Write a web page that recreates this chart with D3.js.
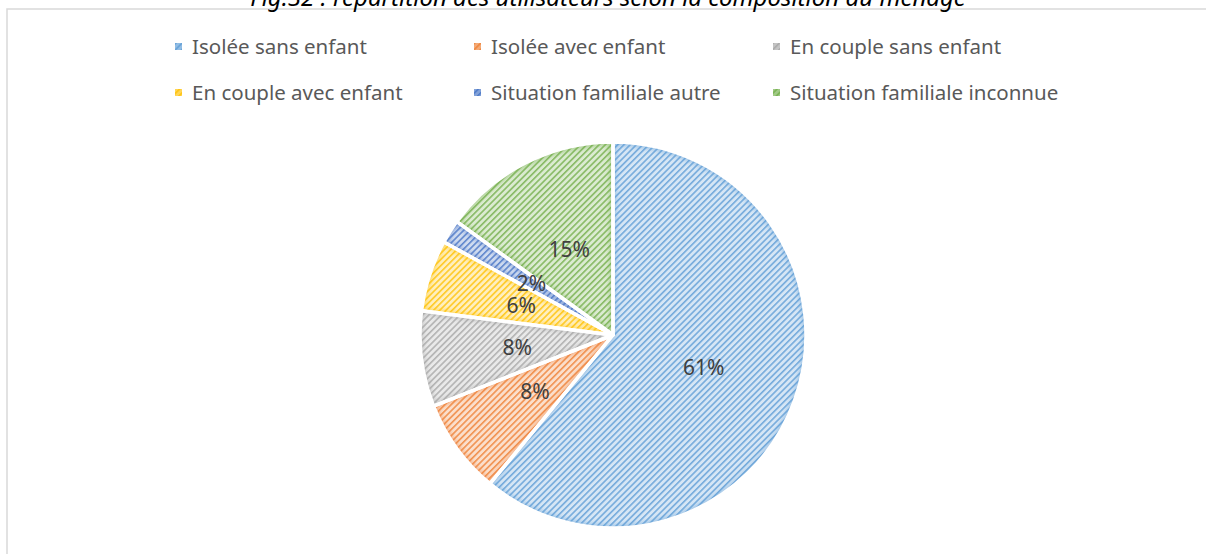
<!DOCTYPE html>
<html>
<head>
<meta charset="utf-8">
<script src="https://cdn.jsdelivr.net/npm/d3@7"></script>
<style>
  html, body { margin: 0; padding: 0; background: #fff; }
  svg { display: block; }
</style>
</head>
<body>
<svg id="chart" width="1206" height="554"></svg>
<script>
// Household composition of users (share, %)
const categories = [
  "Isolée sans enfant",
  "Isolée avec enfant",
  "En couple sans enfant",
  "En couple avec enfant",
  "Situation familiale autre",
  "Situation familiale inconnue"
];
const shares = [61, 8, 8, 6, 2, 15];
const colors = ["#5B9BD5", "#ED7D31", "#A5A5A5", "#FFC000", "#4472C4", "#70AD47"];
const titleText = "Fig.32 : répartition des utilisateurs selon la composition du ménage";

const W = 1206, H = 554;
const svg = d3.select("#chart");
const defs = svg.append("defs");

// Hatched fills: light tint background with fine diagonal stripes in the series colour
colors.forEach((c, i) => {
  const tint = d3.interpolateRgb(c, "#ffffff")(0.75);
  const p = defs.append("pattern")
    .attr("id", "hatch" + i)
    .attr("patternUnits", "userSpaceOnUse")
    .attr("width", 4.4).attr("height", 4.4)
    .attr("patternTransform", "rotate(45)");
  p.append("rect").attr("width", 4.4).attr("height", 4.4).attr("fill", tint);
  p.append("rect").attr("x", 0).attr("width", 1.6).attr("height", 4.4)
    .attr("fill", c).attr("opacity", 0.8);
});

// Soft inner rim
defs.append("filter").attr("id", "soft")
  .attr("x", "-10%").attr("y", "-10%").attr("width", "120%").attr("height", "120%")
  .append("feGaussianBlur").attr("stdDeviation", 2.2);

// Chart frame
svg.append("rect")
  .attr("x", 7).attr("y", 9)
  .attr("width", W + 20).attr("height", H + 20)
  .attr("fill", "none").attr("stroke", "#D9D9D9").attr("stroke-width", 1.5);

// Title (partly above the visible area)
svg.append("text")
  .attr("x", 608).attr("y", 6)
  .attr("text-anchor", "middle")
  .attr("font-family", "'Noto Sans', sans-serif")
  .attr("font-style", "italic")
  .attr("font-size", 24)
  .attr("fill", "#000")
  .text(titleText);

// Legend
const legendCols = [175, 474, 773];
const legendRows = [46.5, 92.5];
const legend = svg.append("g");
categories.forEach((name, i) => {
  const x = legendCols[i % 3], y = legendRows[Math.floor(i / 3)];
  legend.append("rect")
    .attr("x", x).attr("y", y - 3.5).attr("width", 7).attr("height", 7)
    .attr("fill", `url(#hatch${i})`);
  legend.append("rect")
    .attr("x", x).attr("y", y - 3.5).attr("width", 7).attr("height", 7)
    .attr("fill", colors[i]).attr("opacity", 0.55);
  legend.append("text")
    .attr("x", x + 17).attr("y", y)
    .attr("dy", "0.36em")
    .attr("font-family", "'Noto Sans', sans-serif")
    .attr("font-size", 20.5)
    .attr("fill", "#595959")
    .text(name);
});

// Pie
const cx = 613, cy = 335, R = 193;
const pie = d3.pie().sort(null).value(d => d)(shares);
const arc = d3.arc().innerRadius(0).outerRadius(R);
const g = svg.append("g").attr("transform", `translate(${cx},${cy})`);

pie.forEach((d, i) => {
  const clipId = "clip" + i;
  defs.append("clipPath").attr("id", clipId)
    .append("path").attr("d", arc(d));
  const slice = g.append("g");
  slice.append("path")
    .attr("d", arc(d))
    .attr("fill", `url(#hatch${i})`);
  // blurred rim kept inside its slice
  slice.append("g").attr("clip-path", `url(#${clipId})`)
    .append("path")
    .attr("d", arc(d))
    .attr("fill", "none")
    .attr("stroke", colors[i])
    .attr("stroke-width", 7)
    .attr("stroke-opacity", 0.45)
    .attr("filter", "url(#soft)");
});

// White separators between slices
g.selectAll("path.sep")
  .data(pie)
  .join("path")
  .attr("class", "sep")
  .attr("d", arc)
  .attr("fill", "none")
  .attr("stroke", "#fff")
  .attr("stroke-width", 3.5)
  .attr("stroke-linejoin", "round");

// Data labels
g.selectAll("text.lbl")
  .data(pie)
  .join("text")
  .attr("class", "lbl")
  .attr("transform", d => `translate(${arc.centroid(d)})`)
  .attr("text-anchor", "middle")
  .attr("dy", "0.36em")
  .attr("font-family", "'Noto Sans', sans-serif")
  .attr("font-size", 21)
  .attr("fill", "#404040")
  .text(d => d.data + "%");
</script>
</body>
</html>
